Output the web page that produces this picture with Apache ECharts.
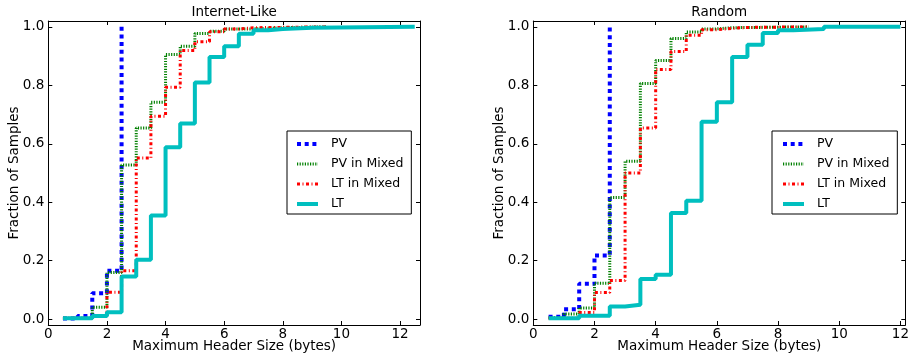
<!DOCTYPE html>
<html>
<head>
<meta charset="utf-8">
<script src="https://cdn.jsdelivr.net/npm/echarts@6/dist/echarts.min.js"></script>
<style>
  html, body { margin: 0; padding: 0; background: #fff; }
  #chart { width: 917px; height: 354px; }
</style>
</head>
<body>
<div id="chart"></div>
<script>
// tick values
const xTicks = [0, 2, 4, 6, 8, 10, 12];
const yTicks = [0, 0.2, 0.4, 0.6, 0.8, 1.0];
const seriesNames = ['PV', 'PV in Mixed', 'LT in Mixed', 'LT'];

// Internet-Like panel
const inetPvX = [0.5, 1, 1.5, 2, 2.5];
const inetPvY = [0.002, 0.011, 0.089, 0.166, 1.0];
const inetPvMixX = [0.5, 1.5, 2, 2.5, 3, 3.5, 4, 4.5, 5, 5.5, 6, 7, 8, 9.5];
const inetPvMixY = [0.003, 0.041, 0.16, 0.527, 0.654, 0.742, 0.905, 0.934, 0.977, 0.985, 0.993, 0.997, 1.0, 1.0];
const inetLtMixX = [0.5, 1.5, 2, 2.5, 3, 3.5, 4, 4.5, 5, 5.5, 6, 6.5, 7, 9.5];
const inetLtMixY = [0.003, 0.011, 0.092, 0.166, 0.551, 0.694, 0.793, 0.919, 0.949, 0.983, 0.993, 0.997, 1.0, 1.0];
const inetLtX = [0.5, 1.5, 2, 2.5, 3, 3.5, 4, 4.5, 5, 5.5, 6, 6.5, 7, 7.5, 8, 9, 12.5];
const inetLtY = [0.003, 0.011, 0.024, 0.146, 0.203, 0.355, 0.588, 0.669, 0.81, 0.897, 0.934, 0.976, 0.988, 0.993, 0.997, 1.0, 1.0];

// Random panel
const randPvX = [0.5, 1, 1.5, 2, 2.5];
const randPvY = [0.008, 0.034, 0.121, 0.218, 1.0];
const randPvMixX = [0.5, 1, 1.5, 2, 2.5, 3, 3.5, 4, 4.5, 5, 5.5, 6, 6.5, 9];
const randPvMixY = [0.005, 0.018, 0.038, 0.123, 0.416, 0.54, 0.806, 0.885, 0.96, 0.982, 0.993, 0.997, 1.0, 1.0];
const randLtMixX = [0.5, 1.5, 2, 2.5, 3, 3.5, 4, 4.5, 5, 5.5, 6, 6.5, 7, 9];
const randLtMixY = [0.003, 0.023, 0.091, 0.132, 0.5, 0.654, 0.854, 0.916, 0.971, 0.99, 0.995, 0.998, 1.0, 1.0];
const randLtX = [0.5, 1.5, 2.5, 3, 3.5, 4, 4.5, 5, 5.5, 6, 6.5, 7, 7.5, 8, 8.5, 9.5, 12];
const randLtY = [0.003, 0.012, 0.043, 0.049, 0.137, 0.152, 0.363, 0.405, 0.675, 0.742, 0.897, 0.939, 0.979, 0.988, 0.993, 1.0, 1.0];

const font = 'DejaVu Sans';
const pair = (xs, ys) => xs.map((x, i) => [x, ys[i]]);

const styles = {
  'PV': { color: '#0000ff', width: 4, type: [4, 3.7] },
  'PV in Mixed': { color: '#008000', width: 3, type: [1.2, 1.4] },
  'LT in Mixed': { color: '#ff0000', width: 3, type: [3, 2.5, 1, 2.5] },
  'LT': { color: '#00bfbf', width: 4, type: 'solid' }
};

function makeSeries(name, xs, ys, gi) {
  const s = styles[name];
  return {
    name: name,
    type: 'line',
    step: 'end',
    symbol: 'none',
    xAxisIndex: gi * 2,
    yAxisIndex: gi * 2,
    data: pair(xs, ys),
    color: s.color,
    lineStyle: { color: s.color, width: s.width, type: s.type, cap: 'butt' },
    emphasis: { disabled: true },
    animation: false
  };
}

const axisLine = { show: true, onZero: false, lineStyle: { color: '#000', width: 1 } };

function xAxes(gi, max, title) {
  return [
    {
      type: 'value', gridIndex: gi, position: 'bottom', min: 0, max: max,
      name: 'Maximum Header Size (bytes)', nameLocation: 'middle', nameGap: 14,
      nameMoveOverlap: false,
      nameTextStyle: { fontSize: 13.5, color: '#000', fontFamily: font },
      axisLine: axisLine,
      axisTick: { inside: true, length: 4, customValues: xTicks, lineStyle: { color: '#000' } },
      axisLabel: { customValues: xTicks, margin: 2, fontSize: 13.5, color: '#000', fontFamily: font },
      splitLine: { show: false }
    },
    {
      type: 'value', gridIndex: gi, position: 'top', min: 0, max: max,
      name: title, nameLocation: 'middle', nameGap: 1.5,
      nameMoveOverlap: false,
      nameTextStyle: { fontSize: 13.5, color: '#000', fontFamily: font },
      axisLine: axisLine,
      axisTick: { inside: true, length: 4, customValues: xTicks, lineStyle: { color: '#000' } },
      axisLabel: { show: false },
      splitLine: { show: false }
    }
  ];
}

function yAxes(gi) {
  return [
    {
      type: 'value', gridIndex: gi, position: 'left', min: -0.02, max: 1.02,
      name: 'Fraction of Samples', nameLocation: 'middle', nameGap: 27,
      nameMoveOverlap: false,
      nameTextStyle: { fontSize: 13.5, color: '#000', fontFamily: font },
      axisLine: axisLine,
      axisTick: { inside: true, length: 4, customValues: yTicks, lineStyle: { color: '#000' } },
      axisLabel: {
        customValues: yTicks, margin: 4, fontSize: 13.5, color: '#000', fontFamily: font,
        formatter: v => v.toFixed(1)
      },
      splitLine: { show: false }
    },
    {
      type: 'value', gridIndex: gi, position: 'right', min: -0.02, max: 1.02,
      axisLine: axisLine,
      axisTick: { inside: true, length: 4, customValues: yTicks, lineStyle: { color: '#000' } },
      axisLabel: { show: false },
      splitLine: { show: false }
    }
  ];
}

function legend(left, padLeft) {
  return {
    data: seriesNames,
    orient: 'vertical',
    left: left,
    top: 131,
    padding: [6, 8, 3, padLeft],
    itemWidth: 21,
    itemHeight: 14,
    itemGap: 6,
    selectedMode: false,
    backgroundColor: '#fff',
    borderColor: '#000',
    borderWidth: 1,
    borderRadius: 0,
    itemStyle: { opacity: 0 },
    lineStyle: { width: 'inherit', type: 'inherit' },
    textStyle: { fontSize: 12.5, color: '#000', fontFamily: font, padding: [0, 0, 0, 8], lineHeight: 14 }
  };
}

const chart = echarts.init(document.getElementById('chart'), null, { renderer: 'canvas' });

chart.setOption({
  animation: false,
  textStyle: { fontFamily: font },
  grid: [
    { left: 48.3, top: 21, width: 371.7, height: 304, outerBoundsMode: 'none', containLabel: false },
    { left: 533.3, top: 21, width: 372, height: 304, outerBoundsMode: 'none', containLabel: false }
  ],
  xAxis: [].concat(xAxes(0, 12.68, 'Internet-Like'), xAxes(1, 12.16, 'Random')),
  yAxis: [].concat(yAxes(0), yAxes(1)),
  legend: [legend(287, 8), legend(772, 9)],
  series: [
    makeSeries('PV', inetPvX, inetPvY, 0),
    makeSeries('PV in Mixed', inetPvMixX, inetPvMixY, 0),
    makeSeries('LT in Mixed', inetLtMixX, inetLtMixY, 0),
    makeSeries('LT', inetLtX, inetLtY, 0),
    makeSeries('PV', randPvX, randPvY, 1),
    makeSeries('PV in Mixed', randPvMixX, randPvMixY, 1),
    makeSeries('LT in Mixed', randLtMixX, randLtMixY, 1),
    makeSeries('LT', randLtX, randLtY, 1)
  ]
});
</script>
</body>
</html>
